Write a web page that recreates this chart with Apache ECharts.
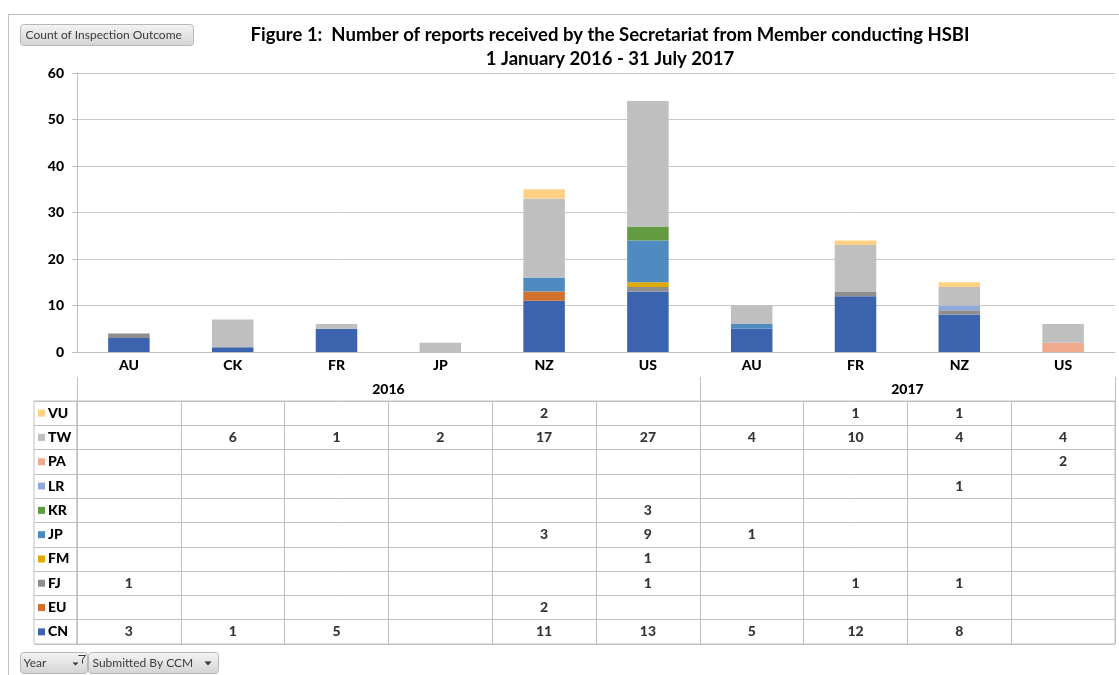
<!DOCTYPE html>
<html>
<head>
<meta charset="utf-8">
<script src="https://cdn.jsdelivr.net/npm/echarts@6/dist/echarts.min.js"></script>
<style>
  html, body { margin: 0; padding: 0; background: #fff; }
  #main { width: 1119px; height: 675px; }
</style>
</head>
<body>
<div id="main"></div>
<script>
// categories (member conducting HSBI) and their year groups
const categories = ['AU', 'CK', 'FR', 'JP', 'NZ', 'US', 'AU', 'FR', 'NZ', 'US']
const years = ['2016', '2017']
const yearCounts = [6, 4]

// reports per flag, bottom of the stack first
const seriesNames = ['CN', 'EU', 'FJ', 'FM', 'JP', 'KR', 'LR', 'PA', 'TW', 'VU']
const CN = [3, 1, 5, null, 11, 13, 5, 12, 8, null]
const EU = [null, null, null, null, 2, null, null, null, null, null]
const FJ = [1, null, null, null, null, 1, null, 1, 1, null]
const FM = [null, null, null, null, null, 1, null, null, null, null]
const JP = [null, null, null, null, 3, 9, 1, null, null, null]
const KR = [null, null, null, null, null, 3, null, null, null, null]
const LR = [null, null, null, null, null, null, null, null, 1, null]
const PA = [null, null, null, null, null, null, null, null, null, 2]
const TW = [null, 6, 1, 2, 17, 27, 4, 10, 4, 4]
const VU = [null, null, null, null, 2, null, null, 1, 1, null]
const seriesData = [CN, EU, FJ, FM, JP, KR, LR, PA, TW, VU]

const yTicks = [0, 10, 20, 30, 40, 50, 60]

const colors = ['#3c64ae', '#d2702e', '#8e8e8e', '#e0ab00', '#4f8bc0',
  '#629b41', '#8fa8dc', '#f0a98a', '#bfbfbf', '#ffd184']

const FONT = 'Lato, "Noto Sans", sans-serif'
const LINE = '#c0c0c0'

// year group boundaries / centres on a 0..n value axis
const bounds = [0]
yearCounts.forEach(c => bounds.push(bounds[bounds.length - 1] + c))
const yearCentres = years.map((y, i) => (bounds[i] + bounds[i + 1]) / 2)

// table cells: [category index, row index, value]
const cells = []
seriesData.forEach((arr, r) => arr.forEach((v, c) => { if (v) cells.push([c, r, v]) }))

const rich = {}
seriesNames.forEach((n, i) => {
  rich['s' + i] = { width: 7, height: 7, backgroundColor: colors[i] }
})
rich.t = { fontFamily: FONT, fontWeight: 900, fontSize: 14, color: '#000', padding: [0, 0, 0, 3] }

const myChart = echarts.init(document.getElementById('main'))

const btnFill = new echarts.graphic.LinearGradient(0, 0, 0, 1, [
  { offset: 0, color: '#f4f4f4' }, { offset: 1, color: '#d3d3d3' }
])

const boldText = { fontFamily: FONT, fontWeight: 900, fontSize: 14, color: '#000' }

const option = {
  animation: false,
  color: colors,
  title: {
    text: 'Figure 1:  Number of reports received by the Secretariat from Member conducting HSBI\n1 January 2016 - 31 July 2017',
    left: 605,
    top: 18,
    textAlign: 'center',
    textStyle: { fontFamily: FONT, fontWeight: 'bold', fontSize: 18.5, color: '#000', lineHeight: 24 }
  },
  grid: [
    { left: 77, top: 73, width: 1038, height: 279 },
    { left: 77, top: 401, width: 1038, height: 243, show: true, borderColor: LINE, borderWidth: 1 },
    { left: 34, top: 401, width: 43, height: 243, show: true, borderColor: LINE, borderWidth: 1 }
  ],
  xAxis: [
    {
      type: 'category', gridIndex: 0, data: categories,
      axisLine: { lineStyle: { color: LINE } },
      axisTick: { interval: 0, length: 25, lineStyle: { color: LINE } },
      axisLabel: Object.assign({ interval: 0, margin: 6 }, boldText)
    },
    {
      type: 'value', gridIndex: 0, position: 'bottom', offset: 25,
      min: 0, max: categories.length,
      axisLine: { show: false },
      splitLine: { show: false },
      axisTick: { show: true, customValues: bounds, length: 24, lineStyle: { color: LINE } },
      axisLabel: Object.assign({
        customValues: yearCentres, margin: 5,
        formatter: v => years[yearCentres.indexOf(v)] || ''
      }, boldText)
    },
    {
      type: 'category', gridIndex: 1, data: categories,
      axisLine: { show: false }, axisTick: { show: false }, axisLabel: { show: false },
      splitLine: { show: true, interval: 0, lineStyle: { color: LINE } }
    },
    {
      type: 'category', gridIndex: 2, data: [''],
      axisLine: { show: false }, axisTick: { show: false }, axisLabel: { show: false }
    }
  ],
  yAxis: [
    {
      type: 'value', gridIndex: 0, min: yTicks[0], max: yTicks[yTicks.length - 1], interval: 10,
      axisLine: { show: true, lineStyle: { color: LINE } },
      axisTick: { show: true, length: 5, lineStyle: { color: LINE } },
      splitLine: { lineStyle: { color: '#c8c8c8' } },
      axisLabel: Object.assign({ margin: 13 }, boldText)
    },
    {
      type: 'category', gridIndex: 1, data: seriesNames,
      axisLine: { show: false }, axisTick: { show: false }, axisLabel: { show: false },
      splitLine: { show: true, interval: 0, lineStyle: { color: LINE } }
    },
    {
      type: 'category', gridIndex: 2, data: seriesNames,
      axisLine: { show: false }, axisTick: { show: false },
      splitLine: { show: true, interval: 0, lineStyle: { color: LINE } },
      axisLabel: {
        inside: true, margin: 4, align: 'left', interval: 0,
        formatter: (v, i) => '{s' + i + '|}{t|' + v + '}',
        rich: rich
      }
    }
  ],
  series: seriesNames.map((n, i) => ({
    name: n,
    type: 'bar',
    stack: 'total',
    xAxisIndex: 0,
    yAxisIndex: 0,
    barWidth: '40%',
    data: seriesData[i],
    itemStyle: { color: colors[i] }
  })).concat([{
    type: 'scatter',
    xAxisIndex: 2,
    yAxisIndex: 1,
    symbolSize: 0,
    silent: true,
    data: cells,
    label: Object.assign({
      show: true, position: 'inside',
      formatter: p => p.value[2]
    }, boldText)
  }]),
  graphic: [
    { type: 'line', shape: { x1: 8, y1: 14.5, x2: 1119, y2: 14.5 }, style: { stroke: '#bfbfbf', lineWidth: 1 } },
    { type: 'line', shape: { x1: 8.5, y1: 14, x2: 8.5, y2: 675 }, style: { stroke: '#bfbfbf', lineWidth: 1 } },
    {
      type: 'group', left: 20, top: 24,
      children: [
        { type: 'rect', shape: { x: 0, y: 0, width: 173, height: 21, r: 3 }, style: { fill: btnFill, stroke: '#b8b8b8' } },
        { type: 'text', x: 5, y: 11, style: { text: 'Count of Inspection Outcome', font: '12px ' + FONT, fill: '#3c3c3c', verticalAlign: 'middle' } }
      ]
    },
    {
      type: 'group', left: 20, top: 652,
      children: [
        { type: 'rect', shape: { x: 0, y: 0, width: 67, height: 21, r: 3 }, style: { fill: btnFill, stroke: '#b8b8b8' } },
        { type: 'text', x: 3, y: 11, style: { text: 'Year', font: '12px ' + FONT, fill: '#3c3c3c', verticalAlign: 'middle' } },
        { type: 'polygon', shape: { points: [[52, 10], [58, 10], [55, 13]] }, style: { fill: '#333' } },
        { type: 'polyline', shape: { points: [[58, 3], [65, 3], [62, 7], [62, 11]] }, style: { stroke: '#333', lineWidth: 1, fill: null } },
        { type: 'rect', shape: { x: 68, y: 0, width: 130, height: 21, r: 3 }, style: { fill: btnFill, stroke: '#b8b8b8' } },
        { type: 'text', x: 72, y: 11, style: { text: 'Submitted By CCM', font: '12px ' + FONT, fill: '#3c3c3c', verticalAlign: 'middle' } },
        { type: 'polygon', shape: { points: [[184, 9], [191, 9], [187.5, 13]] }, style: { fill: '#333' } }
      ]
    }
  ]
}

myChart.setOption(option)
</script>
</body>
</html>
